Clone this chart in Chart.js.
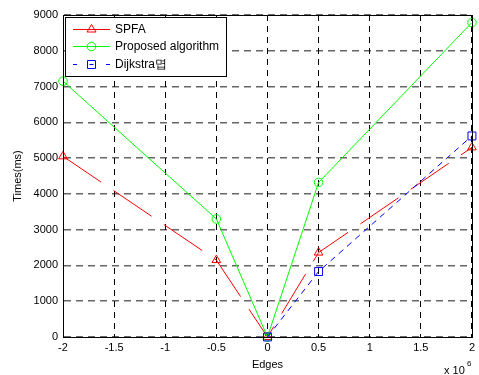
<!DOCTYPE html>
<html><head><meta charset="utf-8">
<script src="https://cdn.jsdelivr.net/npm/chart.js@4/dist/chart.umd.min.js"></script>
<style>html,body{margin:0;padding:0;background:#fff;overflow:hidden}</style>
</head><body>
<canvas id="c" width="479" height="375"></canvas>
<script>
// ---- data ----
const edges = [-2, -0.5, 0, 0.5, 2];            // x 10^6
const spfa = [5050, 2150, 0, 2360, 5300];
const proposed = [7150, 3300, 0, 4320, 8790];
const dijkstraEdges = [0, 0.5, 2];
const dijkstra = [0, 1830, 5620];
const xTicks = [-2, -1.5, -1, -0.5, 0, 0.5, 1, 1.5, 2];
const yTicks = [0, 1000, 2000, 3000, 4000, 5000, 6000, 7000, 8000, 9000];
const seriesNames = ['SPFA', 'Proposed algorithm', 'Dijkstra\uBA81'];
const xTitle = 'Edges';
const yTitle = 'Times(ms)';
const xExponent = '6';

const FONT = "'Liberation Sans', Arial, Helvetica, sans-serif";
Chart.defaults.font.family = FONT;
Chart.defaults.font.size = 11;
Chart.defaults.color = '#000';

const RED = '#ff0000', GREEN = '#00ff00', BLUE = '#0000ff';
const pts = (xs, ys) => xs.map((x, i) => ({x: x, y: ys[i]}));

const frame = {
  id: 'frame',
  afterDatasetsDraw(chart) {
    const {ctx, chartArea: a} = chart;
    ctx.save();
    ctx.strokeStyle = '#000';
    ctx.lineWidth = 1;
    ctx.strokeRect(Math.round(a.left) + 0.5, Math.round(a.top) + 0.5,
                   Math.round(a.right - a.left), Math.round(a.bottom - a.top));
    // exponent label
    ctx.fillStyle = '#000';
    ctx.font = '11px ' + FONT;
    ctx.textBaseline = 'alphabetic';
    ctx.textAlign = 'left';
    ctx.fillText('x 10', 444, 374);
    ctx.font = '8px ' + FONT;
    ctx.fillText(xExponent, 467, 366);
    ctx.restore();
  }
};

const legendBox = {
  id: 'legendBox',
  afterDraw(chart) {
    const ctx = chart.ctx;
    const x0 = 65.5, y0 = 17.5, w = 161, h = 59;
    ctx.save();
    ctx.fillStyle = '#fff';
    ctx.fillRect(x0, y0, w, h);
    ctx.strokeStyle = '#000';
    ctx.lineWidth = 1;
    ctx.strokeRect(x0, y0, w, h);
    const rows = [29.5, 46.5, 64.5];
    const colors = [RED, GREEN, BLUE];
    const dashes = [[], [], [4, 12.5]];
    const lx0 = 73, lx1 = 110, mx = 91.5;
    for (let i = 0; i < 3; i++) {
      const y = rows[i];
      ctx.strokeStyle = colors[i];
      ctx.lineWidth = 1;
      ctx.setLineDash(dashes[i]);
      ctx.beginPath(); ctx.moveTo(lx0, y); ctx.lineTo(lx1, y); ctx.stroke();
      ctx.setLineDash([]);
      ctx.beginPath();
      if (i === 0) {
        ctx.moveTo(mx, y - 5); ctx.lineTo(mx + 4.5, y + 2.5); ctx.lineTo(mx - 4.5, y + 2.5); ctx.closePath();
      } else if (i === 1) {
        ctx.arc(mx, y, 4.3, 0, Math.PI * 2);
      } else {
        ctx.rect(mx - 4, y - 4, 8, 8);
      }
      ctx.stroke();
      ctx.fillStyle = '#000';
      ctx.font = '12px ' + FONT;
      ctx.textBaseline = 'middle';
      ctx.textAlign = 'left';
      ctx.fillText(seriesNames[i], 115, y + 0.5);
    }
    ctx.restore();
  }
};

new Chart(document.getElementById('c'), {
  type: 'scatter',
  data: {
    datasets: [
      {
        label: seriesNames[2], data: pts(dijkstraEdges, dijkstra), showLine: true,
        borderColor: BLUE, borderWidth: 1, borderDash: [6, 5],
        pointStyle: 'rect', pointRadius: 5.6, pointBorderColor: BLUE,
        pointBackgroundColor: 'rgba(0,0,0,0)', pointBorderWidth: 1, clip: false
      },
      {
        label: seriesNames[1], data: pts(edges, proposed), showLine: true,
        borderColor: GREEN, borderWidth: 1,
        pointStyle: 'circle', pointRadius: 4.3, pointBorderColor: GREEN,
        pointBackgroundColor: 'rgba(0,0,0,0)', pointBorderWidth: 1, clip: false
      },
      {
        label: seriesNames[0], data: pts(edges, spfa), showLine: true,
        borderColor: RED, borderWidth: 1, borderDash: [46, 15],
        pointStyle: 'triangle', pointRadius: 5, pointBorderColor: RED,
        pointBackgroundColor: 'rgba(0,0,0,0)', pointBorderWidth: 1, clip: false
      }
    ]
  },
  options: {
    responsive: false,
    animation: false,
    devicePixelRatio: 1,
    events: [],
    layout: {padding: {left: 0, top: 15, right: 7, bottom: 0}},
    plugins: {legend: {display: false}, tooltip: {enabled: false}},
    scales: {
      x: {
        type: 'linear', min: -2, max: 2,
        afterFit: s => { s.height = 38; },
        afterBuildTicks: s => { s.ticks = xTicks.map(v => ({value: v})); },
        ticks: {padding: 4, callback: v => String(v), maxRotation: 0, autoSkip: false},
        grid: {color: '#000', lineWidth: 1, drawTicks: false},
        border: {display: true, color: '#000', dash: [6, 5]},
        title: {display: true, text: xTitle, padding: {top: 0, bottom: 3.5}}
      },
      y: {
        type: 'linear', min: 0, max: 9000,
        afterFit: s => { s.width = 63; },
        afterBuildTicks: s => { s.ticks = yTicks.map(v => ({value: v})); },
        ticks: {padding: 5, callback: v => String(v), autoSkip: false},
        grid: {color: 'rgba(0,0,0,0.6)', lineWidth: 1.6, drawTicks: false},
        border: {display: true, color: '#000', dash: [7, 5]},
        title: {display: true, text: yTitle, padding: {top: 11.4, bottom: 0}}
      }
    }
  },
  plugins: [frame, legendBox]
});
</script>
</body></html>
